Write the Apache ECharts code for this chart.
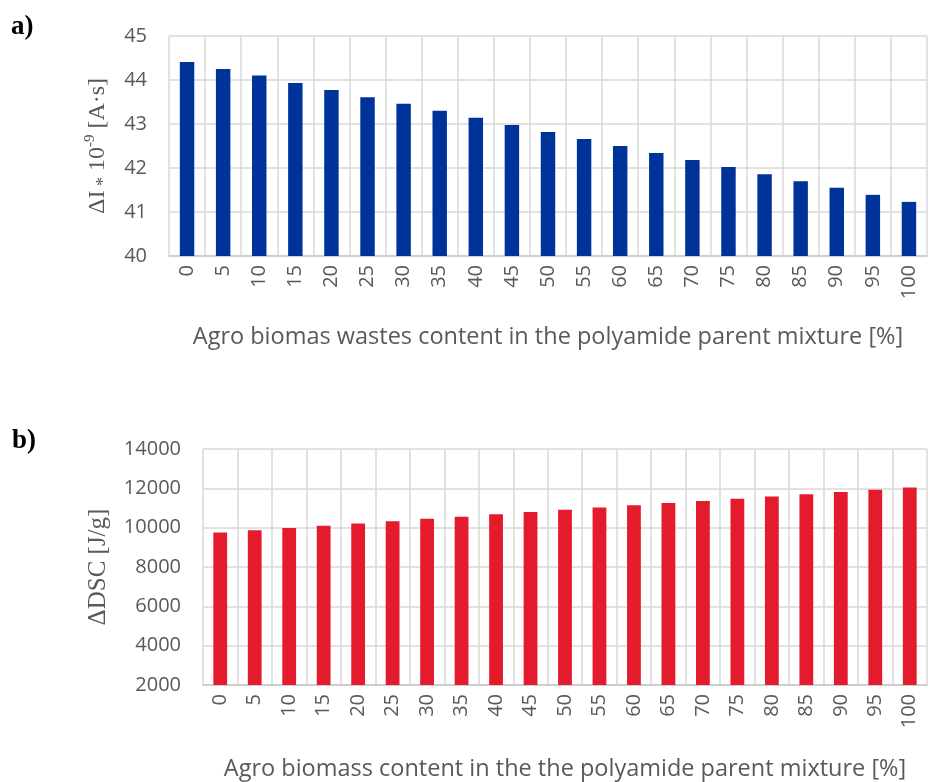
<!DOCTYPE html>
<html>
<head>
<meta charset="utf-8">
<script src="https://cdn.jsdelivr.net/npm/echarts@6/dist/echarts.min.js"></script>
<style>
  html, body { margin: 0; padding: 0; background: #ffffff; }
  #chart { width: 932px; height: 782px; }
</style>
</head>
<body>
<div id="chart"></div>
<script>
// Filler content (%) shared by both panels
const contentLevels = ['0','5','10','15','20','25','30','35','40','45','50','55','60','65','70','75','80','85','90','95','100'];

// Panel a) current change ΔI · 10^-9 [A·s]
const deltaI = [44.41, 44.25, 44.10, 43.93, 43.77, 43.61, 43.46, 43.30, 43.14, 42.98, 42.82,
                42.66, 42.50, 42.34, 42.18, 42.02, 41.86, 41.70, 41.55, 41.39, 41.23];

// Panel b) ΔDSC [J/g]
const deltaDSC = [9750, 9865, 9980, 10100, 10215, 10330, 10450, 10560, 10680, 10800, 10910,
                  11020, 11135, 11255, 11360, 11470, 11590, 11705, 11810, 11925, 12040];

const titleA = 'Agro biomas wastes content in the polyamide parent mixture [%]';
const titleB = 'Agro biomass content in the the polyamide parent mixture [%]';

const gray = '#595959';
const gridColor = '#d9d9d9';
const sansFont = '"Open Sans", sans-serif';
const serifFont = '"Liberation Serif", "Times New Roman", serif';

function catAxis(gridIndex, title, nameGap) {
  return {
    type: 'category',
    gridIndex: gridIndex,
    data: contentLevels,
    boundaryGap: true,
    axisLine: { show: true, lineStyle: { color: '#c8c8c8', width: 1.5 } },
    axisTick: { show: false },
    splitLine: { show: true, interval: 0, lineStyle: { color: gridColor, width: 1.5 } },
    axisLabel: { interval: 0, rotate: 90, margin: 9, color: gray, fontFamily: sansFont, fontSize: 20 },
    name: title,
    nameLocation: 'middle',
    nameGap: nameGap,
    nameTextStyle: { color: gray, fontFamily: sansFont, fontSize: 23.5 }
  };
}

function valAxis(gridIndex, min, max, interval, name, fontSize, rich, nameGap) {
  return {
    type: 'value',
    gridIndex: gridIndex,
    min: min, max: max, interval: interval,
    axisLine: { show: false },
    axisTick: { show: false },
    splitLine: { show: true, lineStyle: { color: gridColor, width: 1.5 } },
    axisLabel: { margin: 22, color: gray, fontFamily: sansFont, fontSize: 20, formatter: function (v) { return String(v); } },
    name: name,
    nameLocation: 'middle',
    nameRotate: 90,
    nameGap: nameGap,
    nameTextStyle: { color: gray, fontFamily: serifFont, fontSize: fontSize, rich: rich }
  };
}

const richA = {
  a: { color: gray, fontFamily: serifFont, fontSize: 24, lineHeight: 30 },
  sub: { color: gray, fontFamily: serifFont, fontSize: 18, lineHeight: 30, verticalAlign: 'bottom' },
  sup: { color: gray, fontFamily: serifFont, fontSize: 15, lineHeight: 30, verticalAlign: 'top' }
};

const chart = echarts.init(document.getElementById('chart'), null, { renderer: 'canvas' });

chart.setOption({
  animation: false,
  backgroundColor: '#ffffff',
  graphic: [
    { type: 'text', left: 11, top: 14, style: { text: 'a)', font: 'bold 27px "Liberation Serif", serif', fill: '#000000' } },
    { type: 'text', left: 12, top: 428, style: { text: 'b)', font: 'bold 27px "Liberation Serif", serif', fill: '#000000' } }
  ],
  grid: [
    { left: 169, right: 5, top: 36, height: 220, containLabel: false },
    { left: 203, right: 5, top: 449, height: 239, containLabel: false }
  ],
  xAxis: [
    catAxis(0, titleA, 69),
    catAxis(1, titleB, 72)
  ],
  yAxis: [
    valAxis(0, 40, 45, 1, '{a|ΔI}{sub| *}{a| 10}{sup|-9}{a| [A·s]}', 24, richA, 56),
    valAxis(1, 2000, 14000, 2000, 'ΔDSC [J/g]', 25, null, 92)
  ],
  series: [
    {
      type: 'bar', xAxisIndex: 0, yAxisIndex: 0,
      data: deltaI, barWidth: '40%',
      itemStyle: { color: '#003399' }
    },
    {
      type: 'bar', xAxisIndex: 1, yAxisIndex: 1,
      data: deltaDSC, barWidth: '40%',
      itemStyle: { color: '#e31b2c' }
    }
  ]
});
</script>
</body>
</html>
